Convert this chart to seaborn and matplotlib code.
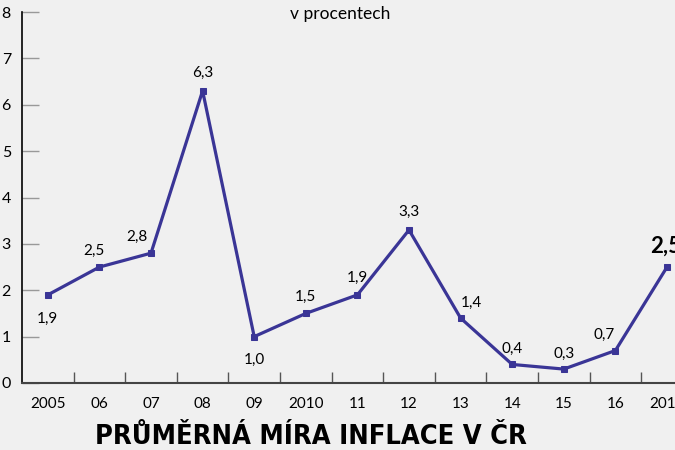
import seaborn as sns
import pandas as pd
import matplotlib.pyplot as plt

years = ['2005', '06', '07', '08', '09', '2010', '11', '12', '13', '14', '15', '16', '2017']
inflation = [1.9, 2.5, 2.8, 6.3, 1.0, 1.5, 1.9, 3.3, 1.4, 0.4, 0.3, 0.7, 2.5]
labels = ['1,9', '2,5', '2,8', '6,3', '1,0', '1,5', '1,9', '3,3', '1,4', '0,4', '0,3', '0,7', '2,5']
# label placement offsets in points (dx, dy)
offsets = [(0, -17), (-4, 12), (-10, 12), (0, 13), (0, -17), (0, 12), (0, 12),
           (0, 13), (8, 11), (0, 11), (0, 11), (-8, 11), (-1, 15)]

df = pd.DataFrame({'pos': range(len(years)), 'value': inflation})

sns.set_style('white')
plt.rcParams['font.family'] = ['Lato', 'DejaVu Sans']
plt.rcParams['text.color'] = 'black'
plt.rcParams['xtick.labelcolor'] = 'black'
plt.rcParams['ytick.labelcolor'] = 'black'

fig = plt.figure(figsize=(6.75, 4.5), dpi=100)
fig.patch.set_facecolor('#f0f0f0')
# axes: left spine at x=22px, reaching past the right edge, y from 383px to 12px
ax = fig.add_axes([22 / 675, 67 / 450, 653 / 675, 371 / 450])
ax.set_facecolor('#f0f0f0')

line_color = '#3a3596'
sns.lineplot(data=df, x='pos', y='value', ax=ax, color=line_color, linewidth=2.3,
             marker='s', markersize=5, markeredgecolor=line_color, clip_on=False)

for i, (lab, (dx, dy)) in enumerate(zip(labels, offsets)):
    last = i == len(labels) - 1
    ax.annotate(lab, (i, inflation[i]), xytext=(dx, dy), textcoords='offset points',
                ha='center', va='center', fontsize=16 if last else 11,
                fontweight='bold' if last else 'normal', color='black',
                annotation_clip=False)

ax.set_xlim(-0.5, 12 + 8 / 51.6)
ax.set_ylim(0, 8)

# y ticks: short grey marks pointing inward
ax.set_yticks(range(0, 9))
ax.set_yticklabels([str(v) for v in range(0, 9)], fontsize=11.5, color='black')
ax.tick_params(axis='y', direction='in', length=12, width=1, color='#999999', pad=8, left=True)

# x ticks: between categories, labels at category centres
ax.set_xticks([p + 0.5 for p in range(12)])
ax.set_xticklabels([])
ax.tick_params(axis='x', which='major', direction='in', length=8, width=1, color='#555555', bottom=True)
ax.set_xticks(range(len(years)), minor=True)
ax.set_xticklabels(years, minor=True, fontsize=11, color='black')
ax.tick_params(axis='x', which='minor', length=0, pad=10)

ax.set_xlabel('')
ax.set_ylabel('')
for side in ['top', 'right']:
    ax.spines[side].set_visible(False)
ax.spines['left'].set_color('black')
ax.spines['left'].set_linewidth(1.2)
ax.spines['bottom'].set_color('#444444')
ax.spines['bottom'].set_linewidth(1.5)

fig.text(340 / 675, 1 - 14 / 450, 'v procentech', ha='center', va='center', fontsize=12.5, color='black')
fig.text(311 / 675, 1 - 437 / 450, 'PRŮMĚRNÁ MÍRA INFLACE V ČR', ha='center', va='center',
         fontsize=19.5, fontweight='bold', family='DejaVu Sans', fontstretch='condensed',
         color='black')

fig.savefig('out.png', dpi=100, facecolor=fig.get_facecolor())
